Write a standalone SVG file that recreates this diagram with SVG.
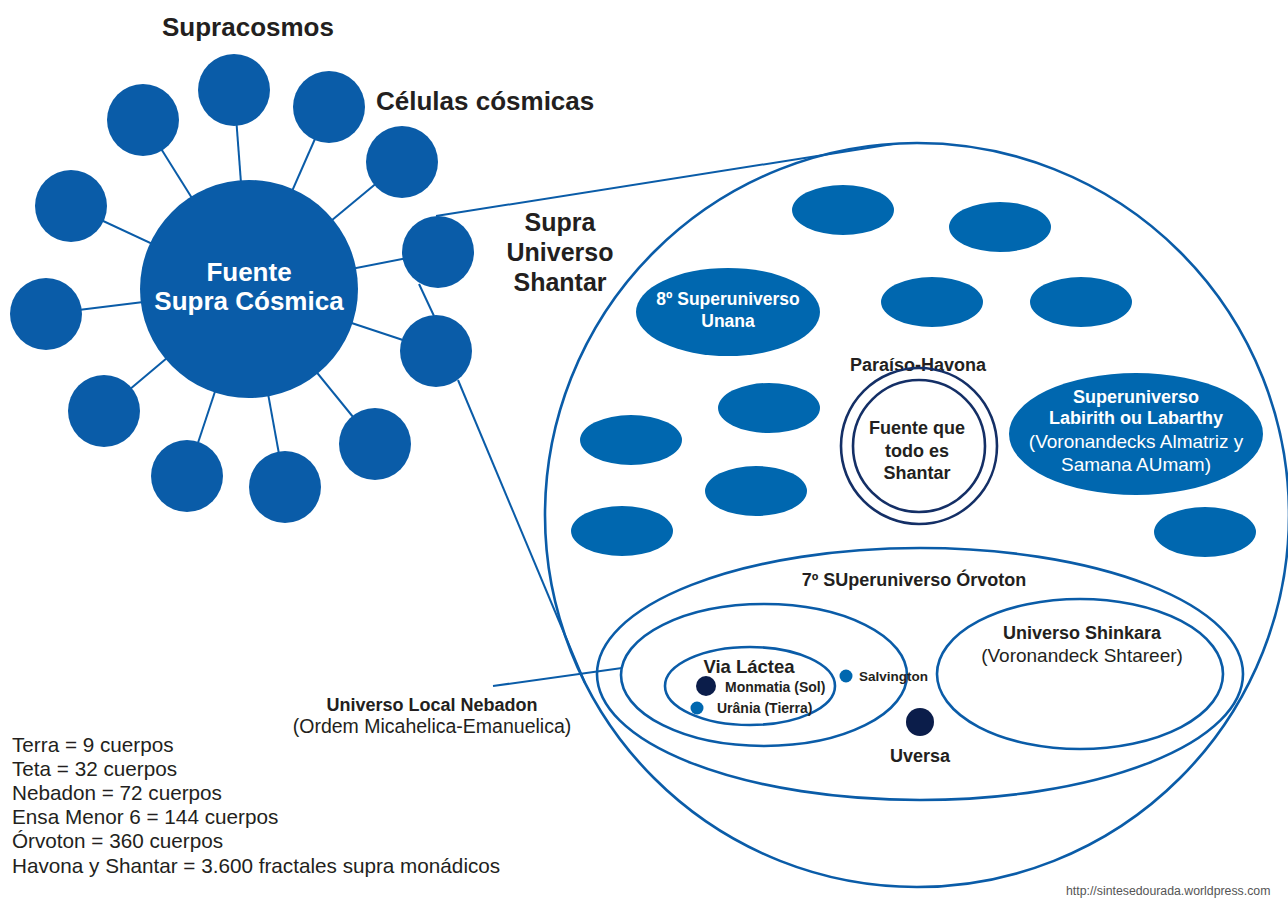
<svg xmlns="http://www.w3.org/2000/svg" width="1288" height="898" viewBox="0 0 1288 898">
<style>
.sc{fill:#0a5ca8}
.fe{fill:#0067af}
.ln{stroke:#0a5ca8;stroke-width:2;fill:none}
.ol{stroke:#0a5ca8;stroke-width:2.6;fill:none}
.nv{stroke:#142f66;stroke-width:2.6;fill:none}
.dot{fill:#0b1d4a}
.bd{font-family:"Liberation Sans",Arial,sans-serif;font-weight:bold;fill:#231f20}
.rg{font-family:"Liberation Sans",Arial,sans-serif;fill:#231f20}
.w{fill:#ffffff}
.m{text-anchor:middle}
</style>
<rect width="1288" height="898" fill="#ffffff"/>
<g id="connectors">
<line class="ln" x1="249" y1="289" x2="143" y2="120"/>
<line class="ln" x1="249" y1="289" x2="234" y2="90"/>
<line class="ln" x1="249" y1="289" x2="329" y2="107"/>
<line class="ln" x1="249" y1="289" x2="402" y2="162"/>
<line class="ln" x1="249" y1="289" x2="71" y2="206"/>
<line class="ln" x1="249" y1="289" x2="438" y2="252"/>
<line class="ln" x1="249" y1="289" x2="46" y2="314"/>
<line class="ln" x1="249" y1="289" x2="104" y2="411"/>
<line class="ln" x1="249" y1="289" x2="187" y2="476"/>
<line class="ln" x1="249" y1="289" x2="285" y2="487"/>
<line class="ln" x1="249" y1="289" x2="375" y2="444"/>
<line class="ln" x1="249" y1="289" x2="436" y2="351"/>
<line class="ln" x1="419" y1="284" x2="434" y2="316"/>
<line class="ln" x1="436" y1="216" x2="893" y2="144"/>
<line class="ln" x1="458" y1="380" x2="585" y2="683"/>
<line class="ln" x1="493" y1="686" x2="622" y2="668"/>
</g>
<g id="fuente-supra-cosmica">
<circle class="sc" cx="249" cy="289" r="109"/>
<text class="bd w m" x="249" y="281" font-size="26">Fuente</text>
<text class="bd w m" x="249" y="310" font-size="26">Supra Cósmica</text>
</g>
<g id="celulas">
<circle class="sc" cx="143" cy="120" r="36"/>
<circle class="sc" cx="234" cy="90" r="36"/>
<circle class="sc" cx="329" cy="107" r="36"/>
<circle class="sc" cx="402" cy="162" r="36"/>
<circle class="sc" cx="71" cy="206" r="36"/>
<circle class="sc" cx="438" cy="252" r="36"/>
<circle class="sc" cx="46" cy="314" r="36"/>
<circle class="sc" cx="104" cy="411" r="36"/>
<circle class="sc" cx="187" cy="476" r="36"/>
<circle class="sc" cx="285" cy="487" r="36"/>
<circle class="sc" cx="375" cy="444" r="36"/>
<circle class="sc" cx="436" cy="351" r="36"/>
</g>
<g id="labels-left">
<text class="bd m" x="248" y="36" font-size="26">Supracosmos</text>
<text class="bd" x="376" y="110" font-size="26">Células cósmicas</text>
<text class="bd m" x="560" y="231" font-size="25">Supra</text>
<text class="bd m" x="560" y="261" font-size="25">Universo</text>
<text class="bd m" x="560" y="291" font-size="25">Shantar</text>
</g>
<g id="supra-universo-shantar">
<circle class="ol" cx="917" cy="515" r="372"/>
</g>
<g id="superuniversos">
<ellipse class="fe" cx="843" cy="210" rx="51" ry="25"/>
<ellipse class="fe" cx="1000" cy="227" rx="51" ry="25"/>
<ellipse class="fe" cx="932" cy="302" rx="51" ry="25"/>
<ellipse class="fe" cx="1081" cy="302" rx="51" ry="25"/>
<ellipse class="fe" cx="769" cy="408" rx="51" ry="25"/>
<ellipse class="fe" cx="631" cy="440" rx="51" ry="25"/>
<ellipse class="fe" cx="756" cy="491" rx="51" ry="25"/>
<ellipse class="fe" cx="622" cy="531" rx="51" ry="25"/>
<ellipse class="fe" cx="1205" cy="532" rx="51" ry="25"/>
</g>
<g id="unana">
<ellipse class="fe" cx="728" cy="312" rx="92" ry="44"/>
<text class="bd w m" x="728" y="305" font-size="17.5">8º Superuniverso</text>
<text class="bd w m" x="728" y="327" font-size="17.5">Unana</text>
</g>
<g id="labirith">
<ellipse class="fe" cx="1136" cy="434" rx="127" ry="61"/>
<text class="bd w m" x="1136" y="403" font-size="18">Superuniverso</text>
<text class="bd w m" x="1136" y="424" font-size="18">Labirith ou Labarthy</text>
<text class="rg w m" x="1136" y="448" font-size="19">(Voronandecks Almatriz y</text>
<text class="rg w m" x="1136" y="471" font-size="19">Samana AUmam)</text>
</g>
<g id="paraiso-havona">
<text class="bd m" x="918" y="371" font-size="18">Paraíso-Havona</text>
<circle class="nv" cx="919" cy="446" r="78"/>
<circle class="nv" cx="919" cy="446" r="66"/>
<text class="bd m" x="917" y="434" font-size="18">Fuente que</text>
<text class="bd m" x="917" y="457" font-size="18">todo es</text>
<text class="bd m" x="917" y="479" font-size="18">Shantar</text>
</g>
<g id="orvoton">
<ellipse class="ol" cx="920" cy="674" rx="323" ry="126"/>
<text class="bd m" x="914" y="586" font-size="18">7º SUperuniverso Órvoton</text>
</g>
<g id="shinkara">
<ellipse class="ol" cx="1080" cy="674" rx="143" ry="75"/>
<text class="bd m" x="1082" y="639" font-size="18">Universo Shinkara</text>
<text class="rg m" x="1082" y="662" font-size="19">(Voronandeck Shtareer)</text>
</g>
<g id="nebadon">
<ellipse class="ol" cx="764" cy="675" rx="143" ry="71"/>
<text class="bd m" x="432" y="711" font-size="18">Universo Local Nebadon</text>
<text class="rg m" x="432" y="733" font-size="19.5">(Ordem Micahelica-Emanuelica)</text>
</g>
<g id="via-lactea">
<ellipse class="ol" cx="750" cy="686" rx="85" ry="39"/>
<text class="bd m" x="749" y="673" font-size="18.5">Via Láctea</text>
</g>
<g id="monmatia">
<circle class="dot" cx="706" cy="686" r="10"/>
<text class="bd" x="725" y="692" font-size="14">Monmatia (Sol)</text>
</g>
<g id="urania">
<circle class="fe" cx="697" cy="708" r="6.5"/>
<text class="bd" x="717" y="713" font-size="14">Urânia (Tierra)</text>
</g>
<g id="salvington">
<circle class="fe" cx="846" cy="676" r="6.5"/>
<text class="bd" x="859" y="681" font-size="13.5">Salvington</text>
</g>
<g id="uversa">
<circle class="dot" cx="920" cy="722" r="14"/>
<text class="bd m" x="920" y="762" font-size="18">Uversa</text>
</g>
<g id="legend">
<text class="rg" x="12" y="752" font-size="20.7">Terra = 9 cuerpos</text>
<text class="rg" x="12" y="776" font-size="20.7">Teta = 32 cuerpos</text>
<text class="rg" x="12" y="800" font-size="20.7">Nebadon = 72 cuerpos</text>
<text class="rg" x="12" y="824" font-size="20.7">Ensa Menor 6 = 144 cuerpos</text>
<text class="rg" x="12" y="848" font-size="20.7">Órvoton = 360 cuerpos</text>
<text class="rg" x="12" y="873" font-size="20.7">Havona y Shantar = 3.600 fractales supra monádicos</text>
</g>
<text x="1066" y="895" font-family="Liberation Sans,Arial,sans-serif" font-size="12.3" fill="#555555">http://sintesedourada.worldpress.com</text>
</svg>
